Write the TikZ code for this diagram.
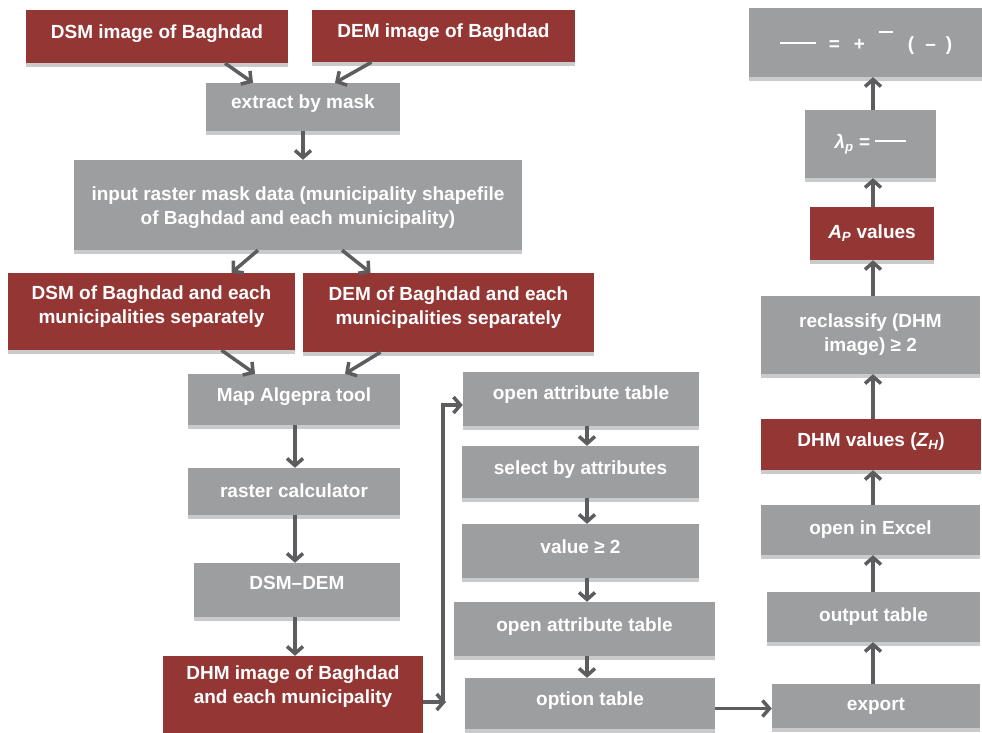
\documentclass[tikz,border=0pt]{standalone}
\usepackage{fontspec}
\setmainfont{Liberation Sans}
\usepackage{tikz}
\usetikzlibrary{arrows.meta,shadows}
\definecolor{boxgrey}{HTML}{9D9EA0}
\definecolor{boxred}{HTML}{943634}
\definecolor{shadowgrey}{HTML}{C9CACC}
\definecolor{arrowgrey}{HTML}{5D5D5F}
\tikzstyle{greybox}=[rectangle,align=center,fill=boxgrey,text=white,inner sep=2pt,
font=\fontsize{19}{24}\selectfont\bfseries,
drop shadow={shadow xshift=0pt,shadow yshift=-4pt,fill=shadowgrey,opacity=1}]
\tikzstyle{redbox}=[greybox,fill=boxred]
\tikzstyle{oneline}=[text height=14pt,text depth=10pt]
\tikzstyle{arrow}=[line width=3.5pt,draw=arrowgrey,->,>={Straight Barb[length=7pt,width=16pt]}]

\begin{document}
\begin{tikzpicture}[x=1pt,y=-1pt]
\useasboundingbox (0,0) rectangle (982,733);
% left column
\node (dsm) [redbox,oneline,minimum width=262pt,minimum height=53pt] at (157,36.5) {DSM image of Baghdad};
\node (dem) [redbox,oneline,minimum width=263pt,minimum height=52pt] at (443.5,36) {DEM image of Baghdad};
\node (mask) [greybox,oneline,minimum width=194pt,minimum height=48pt] at (303,107) {extract by mask};
\node (input) [greybox,minimum width=448pt,minimum height=90pt] at (298,205) {\rule{0pt}{20pt}input raster mask data (municipality shapefile\\of Baghdad and each municipality)};
\node (dsmeach) [redbox,minimum width=287pt,minimum height=77pt] at (151.5,311.5) {DSM of Baghdad and each\\municipalities separately\\[-10pt]};
\node (demeach) [redbox,minimum width=291pt,minimum height=79pt] at (448.5,312.5) {DEM of Baghdad and each\\municipalities separately\\[-10pt]};
\node (map) [greybox,oneline,minimum width=212pt,minimum height=51pt] at (294,399.5) {Map Algepra tool};
\node (raster) [greybox,oneline,text depth=3pt,minimum width=212pt,minimum height=47pt] at (294,491.5) {raster calculator};
\node (dsmdem) [greybox,oneline,text depth=15pt,minimum width=206pt,minimum height=54pt] at (297,590) {DSM--DEM};
\node (dhmimg) [redbox,minimum width=260pt,minimum height=78pt] at (293,695) {\rule{0pt}{20pt}DHM image of Baghdad\\and each municipality\\[4pt]};
% middle column
\node (open1) [greybox,oneline,text depth=14pt,minimum width=236pt,minimum height=54pt] at (581,399) {open attribute table};
\node (select) [greybox,oneline,minimum width=237pt,minimum height=52pt] at (580.5,472) {select by attributes};
\node (value) [greybox,oneline,minimum width=237pt,minimum height=54pt] at (580.5,551) {value ≥ 2};
\node (open2) [greybox,oneline,minimum width=261pt,minimum height=54pt] at (584.5,629) {open attribute table};
\node (option) [greybox,oneline,minimum width=250pt,minimum height=51pt] at (590,703.5) {option table};
% right column
\node (export) [greybox,oneline,text depth=6pt,minimum width=208pt,minimum height=44pt] at (876,706) {export};
\node (output) [greybox,oneline,text depth=6pt,minimum width=213pt,minimum height=50pt] at (873.5,617) {output table};
\node (excel) [greybox,minimum width=219pt,minimum height=50pt] at (870.5,530) {open in Excel};
\node (dhmval) [redbox,oneline,minimum width=220pt,minimum height=51pt] at (871,444.5) {DHM values ({\itshape Z\textsubscript{H}})};
\node (reclass) [greybox,minimum width=219pt,minimum height=78pt] at (870.5,335) {reclassify (DHM\\image) ≥ 2};
\node (ap) [redbox,minimum width=124pt,minimum height=53pt] at (872,233.5) {{\itshape A\textsubscript{P}} values};
\node (lambda) [greybox,minimum width=131pt,minimum height=68pt] at (870.5,144) {{\itshape λ\textsubscript{p}} = \rule[6pt]{31pt}{2pt}};
\node (formula) [greybox,minimum width=234pt,minimum height=69pt] at (866,42.5) {\rule[6pt]{36pt}{2pt}\hspace{13pt}=\hspace{14pt}+\hspace{14pt}\raisebox{17pt}{\rule{14pt}{2pt}}\hspace{15pt}(\hspace{11pt}--\hspace{10pt})};

\coordinate (lc) at (295,0);
\coordinate (mc) at (587,0);
\coordinate (rc) at (873,0);
\coordinate (bend) at (443,702);

\draw [arrow] ([xshift=68pt]dsm.south) -- ([xshift=-50pt]mask.north);
\draw [arrow] ([xshift=-72pt]dem.south) -- ([xshift=32pt]mask.north);
\draw [arrow] (mask.south) -- (mask.south |- input.north);
\draw [arrow] ([xshift=-40pt]input.south) -- ([xshift=80pt]dsmeach.north);
\draw [arrow] ([xshift=44pt]input.south) -- ([xshift=-78pt]demeach.north);
\draw [arrow] ([xshift=70pt]dsmeach.south) -- ([xshift=-39pt]map.north);
\draw [arrow] ([xshift=-68pt]demeach.south) -- ([xshift=51pt]map.north);
\draw [arrow] (map.south -| lc) -- (raster.north -| lc);
\draw [arrow] (raster.south -| lc) -- (dsmdem.north -| lc);
\draw [arrow] (dsmdem.south -| lc) -- (dhmimg.north -| lc);
\draw [arrow] (dhmimg.east |- bend) -- ([xshift=3pt]bend);
\draw [arrow] (bend) |- ([yshift=-6pt]open1.west);

\draw [arrow] (open1.south -| mc) -- (select.north -| mc);
\draw [arrow] (select.south -| mc) -- (value.north -| mc);
\draw [arrow] (value.south -| mc) -- (open2.north -| mc);
\draw [arrow] (open2.south -| mc) -- (option.north -| mc);
\draw [arrow] ([yshift=-5pt]option.east) -- ([yshift=-5pt]option.east -| export.west);

\draw [arrow] (export.north -| rc) -- (output.south -| rc);
\draw [arrow] (output.north -| rc) -- (excel.south -| rc);
\draw [arrow] (excel.north -| rc) -- (dhmval.south -| rc);
\draw [arrow] (dhmval.north -| rc) -- (reclass.south -| rc);
\draw [arrow] (reclass.north -| rc) -- (ap.south -| rc);
\draw [arrow] (ap.north -| rc) -- (lambda.south -| rc);
\draw [arrow] (lambda.north -| rc) -- (formula.south -| rc);
\end{tikzpicture}
\end{document}
